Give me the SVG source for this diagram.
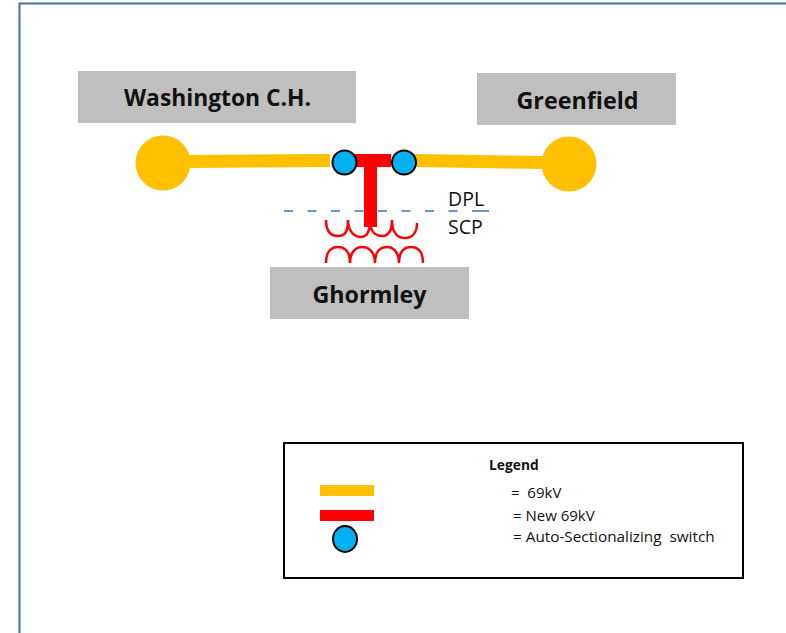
<svg xmlns="http://www.w3.org/2000/svg" width="786" height="633" viewBox="0 0 786 633">
<style>
.lbl{fill:#bfbfbf}
.t{font-family:"Open Sans","Liberation Sans",sans-serif;fill:#111}
.b{font-family:"Open Sans","Liberation Sans",sans-serif;font-weight:700;fill:#111;text-anchor:middle;font-size:23.300px}
.sw{fill:#00b0f0;stroke:#000;stroke-width:2}
.bus{fill:#ffc000}
.coil{fill:none;stroke:#ff0000;stroke-width:2.500}
</style>
<rect width="786" height="633" fill="#fff"/>
<path d="M19.500 633V3.500H786" fill="none" stroke="#41719c" stroke-width="2"/>
<g id="connectors">
<polygon class="bus" points="188,155 330,154 330,167 188,168"/>
<polygon class="bus" points="414,154 545,156 545,169 414,167"/>
<rect x="354" y="154" width="37" height="13" fill="#ff0000"/>
<rect x="364" y="160" width="13" height="67" fill="#ff0000"/>
<line x1="284" y1="211" x2="489" y2="211" stroke="#5b9bd5" stroke-width="2" stroke-dasharray="9 14.500 9 14.500 9 14.500 9 14.500 9 14.500 9 14.500 9 14.500 9 14.500 17"/>
</g>
<g id="washington"><rect class="lbl" x="78" y="71" width="278" height="52"/><text class="b" x="217.500" y="106" style="font-size:22.800px">Washington C.H.</text></g>
<g id="greenfield"><rect class="lbl" x="477" y="73" width="199" height="52"/><text class="b" x="577.500" y="109">Greenfield</text></g>
<g id="ghormley"><rect class="lbl" x="270" y="267" width="199" height="52"/><text class="b" x="369.500" y="303">Ghormley</text></g>
<g id="bus-washington"><circle class="bus" cx="163" cy="163" r="27.500"/></g>
<g id="bus-greenfield"><circle class="bus" cx="569" cy="164" r="27.500"/></g>
<g id="switch-left"><circle class="sw" cx="344.500" cy="162.500" r="12"/></g>
<g id="switch-right"><circle class="sw" cx="404" cy="162.500" r="12"/></g>
<g id="transformer">
<path class="coil" d="M326 220C326 232 331 236 338 236C345 236 348 232 348 220C348 232 355 237 361 237C367 237 370 232 370 220C370 232 376 236 382 236C388 236 392 232 392 220C392 233 398 238 405 238C412 238 417 233 417 223"/>
<path class="coil" d="M326 263C326 252 331 247 338 247C345 247 350 252 350 263C350 252 356 247 362 247C369 247 375 252 375 263C375 252 380 247 387 247C393 247 399 252 399 263C399 252 404 247 411 247C418 247 423 252 423 263"/>
</g>
<g id="dpl"><text class="t" x="448" y="206" font-size="19.500">DPL</text></g>
<g id="scp"><text class="t" x="448" y="234" font-size="19.500">SCP</text></g>
<g id="legend">
<rect x="284" y="443" width="459" height="135" fill="#fff" stroke="#000" stroke-width="2"/>
<text class="t" x="489" y="470" font-size="13.800" font-weight="700">Legend</text>
<rect class="bus" x="320" y="485" width="54" height="11"/>
<rect x="320" y="510" width="54" height="11" fill="#ff0000"/>
<ellipse class="sw" cx="345" cy="539" rx="12" ry="13"/>
<text class="t" x="511" y="498" font-size="15" xml:space="preserve">=  69kV</text>
<text class="t" x="513" y="521" font-size="15">= New 69kV</text>
<text class="t" x="513" y="542" font-size="15.300" xml:space="preserve">= Auto-Sectionalizing  switch</text>
</g>
</svg>
